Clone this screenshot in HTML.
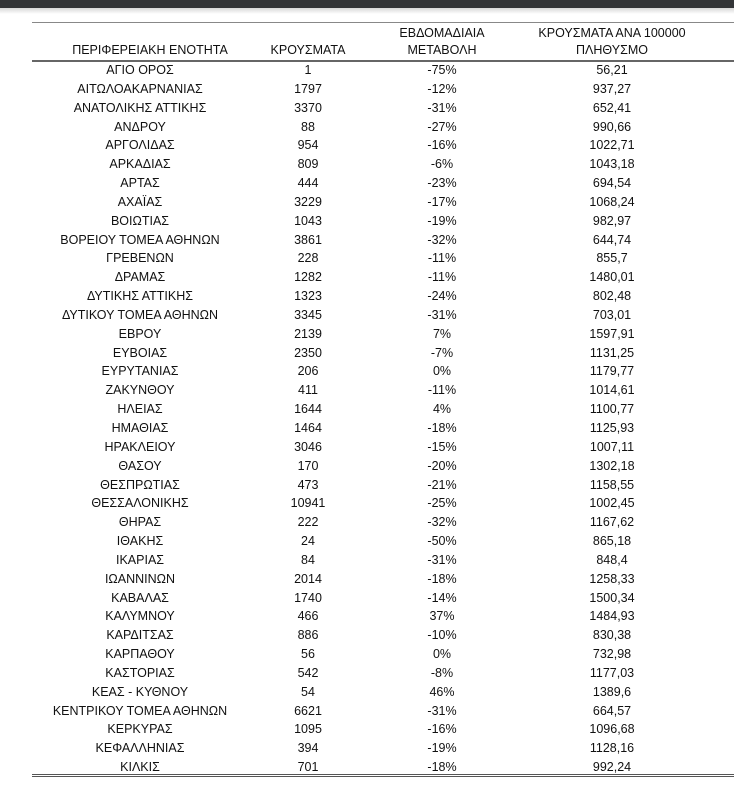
<!DOCTYPE html>
<html><head><meta charset="utf-8"><style>
html,body{margin:0;padding:0;background:#fff;width:734px;height:790px;overflow:hidden;position:relative;font-family:"Liberation Sans","DejaVu Sans",sans-serif;font-size:12.5px;color:#111}
.bar{position:absolute;left:0;top:0;width:734px;height:8px;background:#333537}
.shadow{position:absolute;left:0;top:8px;width:734px;height:6px;background:linear-gradient(#d8d8d8,#fff)}
.l{position:absolute;left:32px;right:0;background:#777}
.r{position:absolute;left:0;width:734px;height:19px;line-height:19px}
.r span{position:absolute;transform:translateX(-50%);white-space:nowrap}
.c1{left:140px}.h1{left:150px}.c2{left:308px}.c3{left:442px}.c4{left:612px}
</style></head><body>
<div class="bar"></div><div class="shadow"></div>
<div class="l" style="top:22px;height:1px;background:#888"></div>
<div class="r" style="top:24px"><span class="c3">ΕΒΔΟΜΑΔΙΑΙΑ</span><span class="c4">ΚΡΟΥΣΜΑΤΑ ΑΝΑ 100000</span></div>
<div class="r" style="top:41px"><span class="h1">ΠΕΡΙΦΕΡΕΙΑΚΗ ΕΝΟΤΗΤΑ</span><span class="c2">ΚΡΟΥΣΜΑΤΑ</span><span class="c3">ΜΕΤΑΒΟΛΗ</span><span class="c4">ΠΛΗΘΥΣΜΟ</span></div>
<div class="l" style="top:60px;height:2px;background:#666"></div>
<div id="rows"></div>
<div class="l" style="top:774px;height:1px;background:#555"></div>
<div class="l" style="top:776px;height:1px;background:#555"></div>
<script>
var d=[["ΑΓΙΟ ΟΡΟΣ","1","-75%","56,21"],["ΑΙΤΩΛΟΑΚΑΡΝΑΝΙΑΣ","1797","-12%","937,27"],["ΑΝΑΤΟΛΙΚΗΣ ΑΤΤΙΚΗΣ","3370","-31%","652,41"],["ΑΝΔΡΟΥ","88","-27%","990,66"],["ΑΡΓΟΛΙΔΑΣ","954","-16%","1022,71"],["ΑΡΚΑΔΙΑΣ","809","-6%","1043,18"],["ΑΡΤΑΣ","444","-23%","694,54"],["ΑΧΑΪΑΣ","3229","-17%","1068,24"],["ΒΟΙΩΤΙΑΣ","1043","-19%","982,97"],["ΒΟΡΕΙΟΥ ΤΟΜΕΑ ΑΘΗΝΩΝ","3861","-32%","644,74"],["ΓΡΕΒΕΝΩΝ","228","-11%","855,7"],["ΔΡΑΜΑΣ","1282","-11%","1480,01"],["ΔΥΤΙΚΗΣ ΑΤΤΙΚΗΣ","1323","-24%","802,48"],["ΔΥΤΙΚΟΥ ΤΟΜΕΑ ΑΘΗΝΩΝ","3345","-31%","703,01"],["ΕΒΡΟΥ","2139","7%","1597,91"],["ΕΥΒΟΙΑΣ","2350","-7%","1131,25"],["ΕΥΡΥΤΑΝΙΑΣ","206","0%","1179,77"],["ΖΑΚΥΝΘΟΥ","411","-11%","1014,61"],["ΗΛΕΙΑΣ","1644","4%","1100,77"],["ΗΜΑΘΙΑΣ","1464","-18%","1125,93"],["ΗΡΑΚΛΕΙΟΥ","3046","-15%","1007,11"],["ΘΑΣΟΥ","170","-20%","1302,18"],["ΘΕΣΠΡΩΤΙΑΣ","473","-21%","1158,55"],["ΘΕΣΣΑΛΟΝΙΚΗΣ","10941","-25%","1002,45"],["ΘΗΡΑΣ","222","-32%","1167,62"],["ΙΘΑΚΗΣ","24","-50%","865,18"],["ΙΚΑΡΙΑΣ","84","-31%","848,4"],["ΙΩΑΝΝΙΝΩΝ","2014","-18%","1258,33"],["ΚΑΒΑΛΑΣ","1740","-14%","1500,34"],["ΚΑΛΥΜΝΟΥ","466","37%","1484,93"],["ΚΑΡΔΙΤΣΑΣ","886","-10%","830,38"],["ΚΑΡΠΑΘΟΥ","56","0%","732,98"],["ΚΑΣΤΟΡΙΑΣ","542","-8%","1177,03"],["ΚΕΑΣ - ΚΥΘΝΟΥ","54","46%","1389,6"],["ΚΕΝΤΡΙΚΟΥ ΤΟΜΕΑ ΑΘΗΝΩΝ","6621","-31%","664,57"],["ΚΕΡΚΥΡΑΣ","1095","-16%","1096,68"],["ΚΕΦΑΛΛΗΝΙΑΣ","394","-19%","1128,16"],["ΚΙΛΚΙΣ","701","-18%","992,24"]];
var h="";for(var i=0;i<d.length;i++){var t=61+i*18.84;h+='<div class="r" style="top:'+t.toFixed(1)+'px"><span class="c1">'+d[i][0]+'</span><span class="c2">'+d[i][1]+'</span><span class="c3">'+d[i][2]+'</span><span class="c4">'+d[i][3]+'</span></div>';}
document.getElementById("rows").innerHTML=h;
</script>
</body></html>
